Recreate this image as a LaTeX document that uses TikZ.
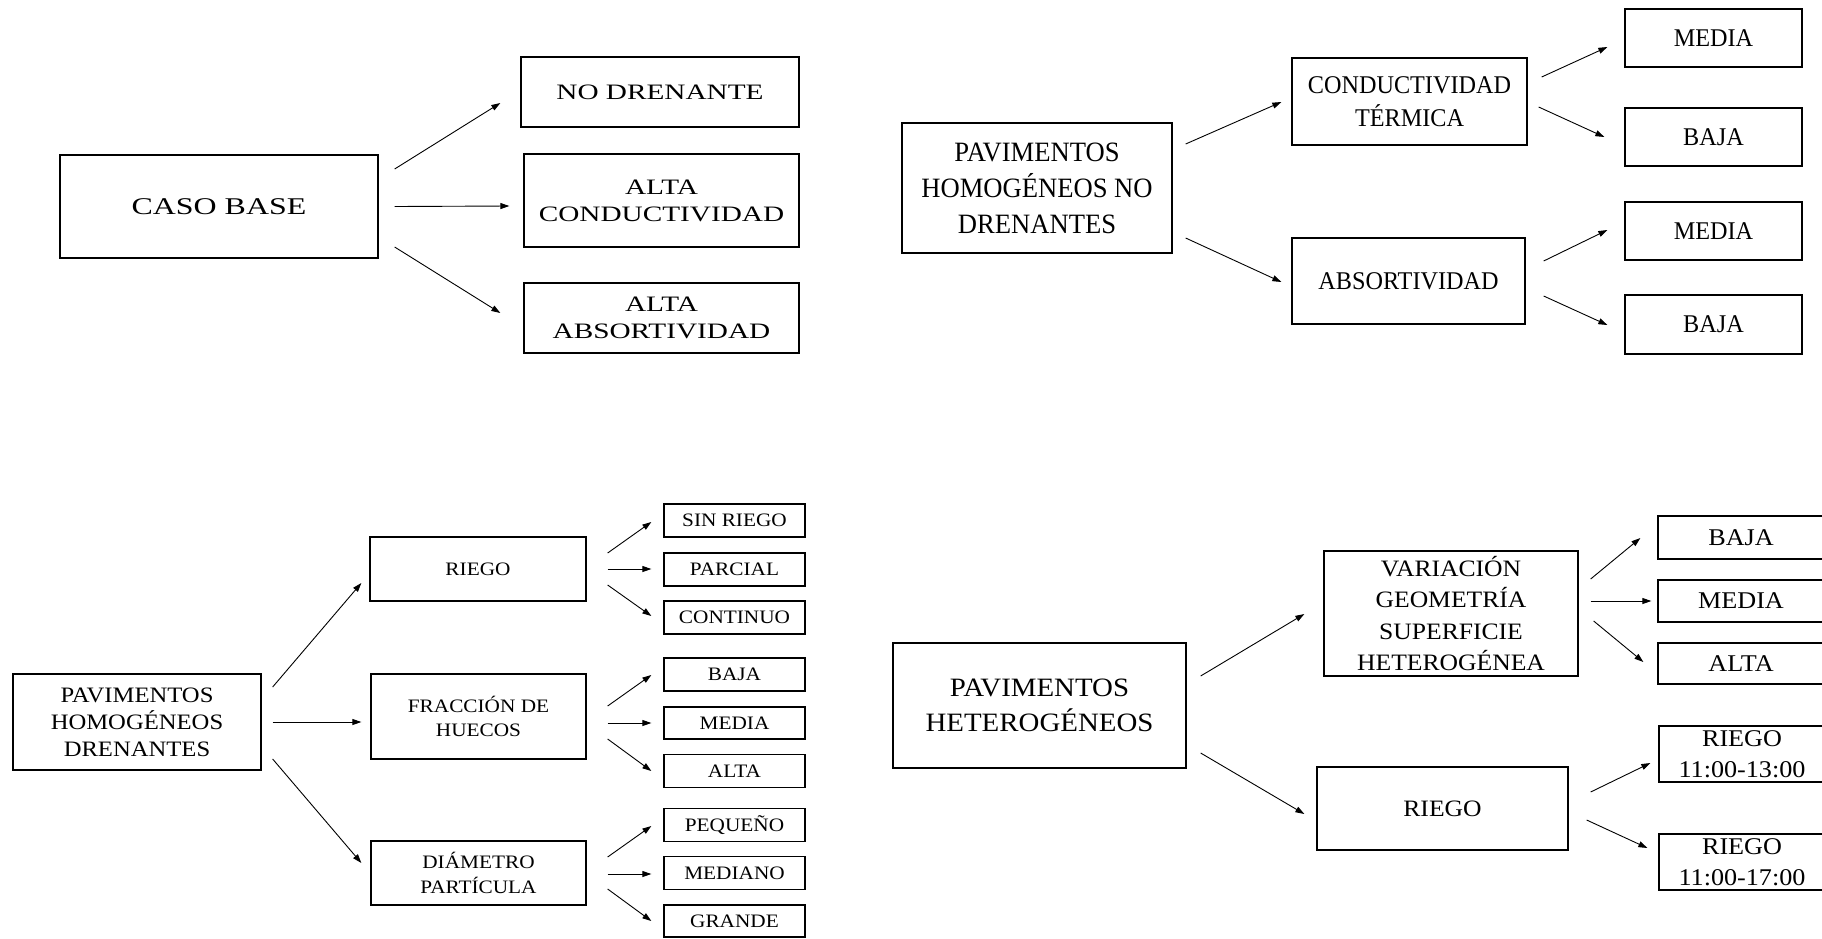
\documentclass[tikz,border=0pt]{standalone}
\usepackage{fontspec}
\usetikzlibrary{arrows.meta}
\setmainfont{Liberation Serif}
\newfontfamily\fontTL{Liberation Serif}[FakeStretch=1.33]
\newfontfamily\fontTR{Liberation Serif}[FakeStretch=0.95]
\newfontfamily\fontBL{Liberation Serif}[FakeStretch=1.12]
\newfontfamily\fontBR{Liberation Serif}[FakeStretch=1.09]

\begin{document}
\begin{tikzpicture}[x=1pt, y=-1pt, block/.style={rectangle, draw, line width=1.3pt, align=center, inner sep=1pt}, sz/.style 2 args={minimum width=#1pt, minimum height=#2pt}, conn/.style={-{Triangle[length=9pt, width=6pt]}, line width=0.9pt}, tl/.style={block, font=\fontTL\fontsize{22}{27}\selectfont}, tr/.style={block, font=\fontTR\fontsize{25.5}{32.5}\selectfont}, bl/.style={block, font=\fontBL\fontsize{19}{24.5}\selectfont}, br/.style={block, font=\fontBR\fontsize{24}{31}\selectfont}]

  \useasboundingbox (0,0) rectangle (1822,938);
  \clip (0,0) rectangle (1822,938);

  \node[tl, sz={318}{103}, font=\fontTL\fontsize{24}{30}\selectfont] (casobase) at (219,206.5) {CASO BASE};
  \node[tl, sz={278}{70}] (nodren) at (660,92) {NO DRENANTE};
  \node[tl, sz={275}{93}] (altacond) at (661.5,200.5) {ALTA\\CONDUCTIVIDAD};
  \node[tl, sz={275}{70}] (altaabs) at (661.5,318) {ALTA\\ABSORTIVIDAD};

  \draw[conn] ([shift={(16,-37.5)}]casobase.east) -- ([shift={(-20,11)}]nodren.west);
  \draw[conn] ([shift={(16,0)}]casobase.east) -- ([shift={(-14,5.5)}]altacond.west);
  \draw[conn] ([shift={(16,40.5)}]casobase.east) -- ([shift={(-23,-5)}]altaabs.west);

  \node[tr, sz={270}{130}, font=\fontTR\fontsize{28}{36}\selectfont] (phnd) at (1037,188) {PAVIMENTOS\\HOMOGÉNEOS NO\\DRENANTES};
  \node[tr, sz={235}{87}] (condterm) at (1409.5,101.5) {CONDUCTIVIDAD\\TÉRMICA};
  \node[tr, sz={233}{86}] (absort) at (1408.5,281) {ABSORTIVIDAD};
  \node[tr, sz={177}{58}] (mediac) at (1713.5,38) {MEDIA};
  \node[tr, sz={177}{58}] (bajac) at (1713.5,137) {BAJA};
  \node[tr, sz={177}{58}] (mediaa) at (1713.5,231) {MEDIA};
  \node[tr, sz={177}{59}] (bajaa) at (1713.5,324.5) {BAJA};

  \draw[conn] ([shift={(13,-44)}]phnd.east) -- ([shift={(-10,0.5)}]condterm.west);
  \draw[conn] ([shift={(13,50)}]phnd.east) -- ([shift={(-10,1)}]absort.west);
  \draw[conn] ([shift={(14,-24.5)}]condterm.east) -- ([shift={(-17,9)}]mediac.west);
  \draw[conn] ([shift={(11,5.5)}]condterm.east) -- ([shift={(-20,0)}]bajac.west);
  \draw[conn] ([shift={(18,-20)}]absort.east) -- ([shift={(-17,-1)}]mediaa.west);
  \draw[conn] ([shift={(18,15)}]absort.east) -- ([shift={(-17,0.5)}]bajaa.west);

  \node[bl, sz={248}{96}, font=\fontBL\fontsize{22}{27}\selectfont] (phd) at (137,722) {PAVIMENTOS\\HOMOGÉNEOS\\DRENANTES};
  \node[bl, sz={216}{64}] (riego) at (478,569) {RIEGO};
  \node[bl, sz={215}{85}] (fraccion) at (478.5,716.5) {FRACCIÓN DE\\HUECOS};
  \node[bl, sz={215}{64}] (diametro) at (478.5,873) {DIÁMETRO\\PARTÍCULA};
  \node[bl, sz={141}{33}] (sinriego) at (734.5,520.5) {SIN RIEGO};
  \node[bl, sz={141}{33}] (parcial) at (734.5,569.5) {PARCIAL};
  \node[bl, sz={141}{33}] (continuo) at (734.5,617.5) {CONTINUO};
  \node[bl, sz={141}{33}] (bajah) at (734.5,674.5) {BAJA};
  \node[bl, sz={141}{32}] (mediah) at (734.5,723) {MEDIA};
  \node[bl, sz={141}{33}] (altah) at (734.5,771) {ALTA};
  \node[bl, sz={141}{33}] (pequeno) at (734.5,825) {PEQUEÑO};
  \node[bl, sz={141}{33}] (mediano) at (734.5,873) {MEDIANO};
  \node[bl, sz={141}{32}] (grande) at (734.5,921) {GRANDE};

  \draw[conn] ([shift={(11,-35)}]phd.east) -- ([shift={(-8,14)}]riego.west);
  \draw[conn] ([shift={(11,0)}]phd.east) -- ([shift={(-9,5.5)}]fraccion.west);
  \draw[conn] ([shift={(11,37)}]phd.east) -- ([shift={(-9,-10)}]diametro.west);
  \draw[conn] ([shift={(21,-16)}]riego.east) -- ([shift={(-12,1.5)}]sinriego.west);
  \draw[conn] ([shift={(21,0)}]riego.east) -- ([shift={(-12,-0.5)}]parcial.west);
  \draw[conn] ([shift={(21,16)}]riego.east) -- ([shift={(-12,-1.5)}]continuo.west);
  \draw[conn] ([shift={(21,-10.5)}]fraccion.east) -- ([shift={(-12,0.5)}]bajah.west);
  \draw[conn] ([shift={(21,6.5)}]fraccion.east) -- ([shift={(-12,0)}]mediah.west);
  \draw[conn] ([shift={(21,22.5)}]fraccion.east) -- ([shift={(-12,0)}]altah.west);
  \draw[conn] ([shift={(21,-16)}]diametro.east) -- ([shift={(-12,1)}]pequeno.west);
  \draw[conn] ([shift={(21,1)}]diametro.east) -- ([shift={(-12,1)}]mediano.west);
  \draw[conn] ([shift={(21,16)}]diametro.east) -- ([shift={(-12,0)}]grande.west);

  \node[br, sz={293}{125}, font=\fontBR\fontsize{26.5}{34.5}\selectfont] (ph) at (1039.5,705.5) {PAVIMENTOS\\HETEROGÉNEOS};
  \node[br, sz={254}{125}, font=\fontBR\fontsize{23.5}{31.5}\selectfont] (variacion) at (1451,613.5) {VARIACIÓN\\GEOMETRÍA\\SUPERFICIE\\HETEROGÉNEA};
  \node[br, sz={251}{83}, font=\fontBR\fontsize{23.5}{31.5}\selectfont] (riegoh) at (1442.5,808.5) {RIEGO};
  \node[br, sz={166}{43}] (bajav) at (1741,537.5) {BAJA};
  \node[br, sz={166}{42}] (mediav) at (1741,601) {MEDIA};
  \node[br, sz={166}{41}] (altav) at (1741,663.5) {ALTA};
  \node[br, sz={166}{56}] (riegoa) at (1742,754) {RIEGO\\11:00-13:00};
  \node[br, sz={166}{56}] (riegob) at (1742,862) {RIEGO\\11:00-17:00};

  \draw[conn] ([shift={(14,-29.5)}]ph.east) -- ([shift={(-19,0.5)}]variacion.west);
  \draw[conn] ([shift={(14,47.5)}]ph.east) -- ([shift={(-12,5.5)}]riegoh.west);
  \draw[conn] ([shift={(12,-34.5)}]variacion.east) -- ([shift={(-17,0.5)}]bajav.west);
  \draw[conn] ([shift={(12,-12.5)}]variacion.east) -- ([shift={(-6,0)}]mediav.west);
  \draw[conn] ([shift={(15,7.5)}]variacion.east) -- ([shift={(-14,-1.5)}]altav.west);
  \draw[conn] ([shift={(22,-16.5)}]riegoh.east) -- ([shift={(-8,9)}]riegoa.west);
  \draw[conn] ([shift={(18,11.5)}]riegoh.east) -- ([shift={(-11,-14)}]riegob.west);
\end{tikzpicture}
\end{document}
